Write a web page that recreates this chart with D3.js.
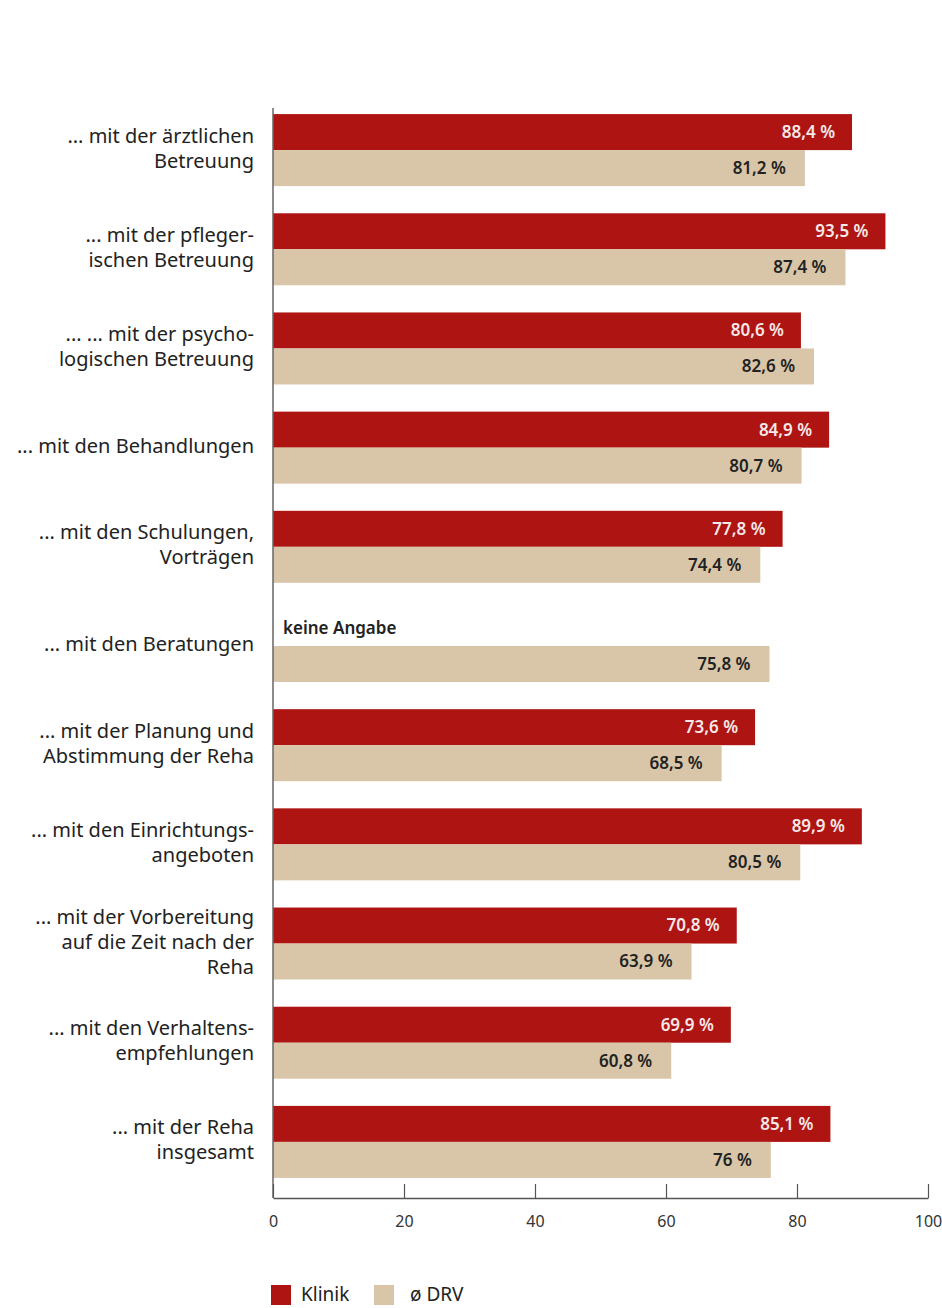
<!DOCTYPE html>
<html>
<head>
<meta charset="utf-8">
<script src="https://cdn.jsdelivr.net/npm/d3@7"></script>
<style>
  body { margin: 0; background: #fff; }
  text { font-family: "Noto Sans", sans-serif; }
</style>
</head>
<body>
<div id="chart"></div>
<script>
// Data
const categories = [
    ["... mit der ärztlichen", "Betreuung"],
    ["... mit der pfleger-", "ischen Betreuung"],
    ["... ... mit der psycho-", "logischen Betreuung"],
    ["... mit den Behandlungen"],
    ["... mit den Schulungen,", "Vorträgen"],
    ["... mit den Beratungen"],
    ["... mit der Planung und", "Abstimmung der Reha"],
    ["... mit den Einrichtungs-", "angeboten"],
    ["... mit der Vorbereitung", "auf die Zeit nach der", "Reha"],
    ["... mit den Verhaltens-", "empfehlungen"],
    ["... mit der Reha", "insgesamt"]
];
const klinik = [88.4, 93.5, 80.6, 84.9, 77.8, null, 73.6, 89.9, 70.8, 69.9, 85.1];
const drv = [81.2, 87.4, 82.6, 80.7, 74.4, 75.8, 68.5, 80.5, 63.9, 60.8, 76];
const xTicks = [0, 20, 40, 60, 80, 100];
const seriesNames = ["Klinik", "ø DRV"];
const noDataText = "keine Angabe";

// Dimensions
const W = 942, H = 1308;
const colors = { klinik: "#ad1412", drv: "#d9c6a8" };

const svg = d3.select("#chart")
    .append("svg")
    .attr("width", W)
    .attr("height", H);

// Scales
const x = d3.scaleLinear().domain([0, 100]).range([273, 928]);
const y = d3.scaleBand()
    .domain(d3.range(categories.length))
    .range([100.5, 1191.5])
    .paddingInner(0.274)
    .paddingOuter(0.137);
const bh = y.bandwidth() / 2;

const fmt = v => String(v).replace(".", ",") + " %";

// Bars
const groups = svg.selectAll(".grp")
    .data(categories.map((c, i) => ({ i, label: c, k: klinik[i], d: drv[i] })))
    .enter().append("g")
    .attr("class", "grp");

groups.filter(d => d.k != null).append("rect")
    .attr("x", x(0))
    .attr("y", d => y(d.i))
    .attr("width", d => x(d.k) - x(0))
    .attr("height", bh)
    .attr("fill", colors.klinik);

groups.append("rect")
    .attr("x", x(0))
    .attr("y", d => y(d.i) + bh)
    .attr("width", d => x(d.d) - x(0))
    .attr("height", bh)
    .attr("fill", colors.drv);

// Value labels
groups.filter(d => d.k != null).append("text")
    .attr("x", d => x(d.k) - 17)
    .attr("y", d => y(d.i) + bh / 2)
    .attr("dy", "0.35em")
    .attr("text-anchor", "end")
    .attr("font-size", 17)
    .attr("font-weight", 600)
    .attr("fill", "#f6e8e8")
    .text(d => fmt(d.k));

groups.filter(d => d.k == null).append("text")
    .attr("x", x(0) + 10)
    .attr("y", d => y(d.i) + bh / 2)
    .attr("dy", "0.35em")
    .attr("font-size", 17)
    .attr("font-weight", 600)
    .attr("fill", "#222")
    .text(noDataText);

groups.append("text")
    .attr("x", d => x(d.d) - 19)
    .attr("y", d => y(d.i) + bh * 1.5)
    .attr("dy", "0.35em")
    .attr("text-anchor", "end")
    .attr("font-size", 17)
    .attr("font-weight", 600)
    .attr("fill", "#222")
    .text(d => fmt(d.d));

// Category labels
const lineH = 25;
groups.append("text")
    .attr("text-anchor", "end")
    .attr("font-size", 20)
    .attr("fill", "#222")
    .each(function(d) {
        const n = d.label.length;
        const cy = y(d.i) + bh - 2;
        d3.select(this).selectAll("tspan")
            .data(d.label)
            .enter().append("tspan")
            .attr("x", 254)
            .attr("y", (t, j) => cy + (j - (n - 1) / 2) * lineH)
            .attr("dy", "0.35em")
            .text(t => t);
    });

// Axes
svg.append("line")
    .attr("x1", x(0)).attr("x2", x(0))
    .attr("y1", 108).attr("y2", 1198)
    .attr("stroke", "#666").attr("stroke-width", 1.5);

const xAxis = svg.append("g")
    .attr("transform", "translate(0,1198)")
    .call(d3.axisTop(x).tickValues(xTicks).tickSize(14).tickSizeOuter(0).tickFormat(d3.format("d")));
xAxis.select(".domain").attr("stroke", "#555").attr("stroke-width", 1.5);
xAxis.selectAll(".tick line").attr("stroke", "#555").attr("stroke-width", 1.2);
xAxis.selectAll(".tick text")
    .attr("y", 23)
    .attr("dy", "0.35em")
    .attr("font-size", 16)
    .attr("font-family", "Noto Sans, sans-serif")
    .attr("fill", "#333");

// Legend
const legend = svg.append("g").attr("transform", "translate(271,1285)");
const legItems = [
    { name: seriesNames[0], color: colors.klinik, x: 0 },
    { name: seriesNames[1], color: colors.drv, x: 103 }
];
legItems.forEach(l => {
    legend.append("rect")
        .attr("x", l.x).attr("y", 0)
        .attr("width", 20).attr("height", 20)
        .attr("fill", l.color);
    legend.append("text")
        .attr("x", l.x + 30 + (l.x ? 6 : 0))
        .attr("y", 9)
        .attr("dy", "0.35em")
        .attr("font-size", 19)
        .attr("fill", "#222")
        .text(l.name);
});
</script>
</body>
</html>
